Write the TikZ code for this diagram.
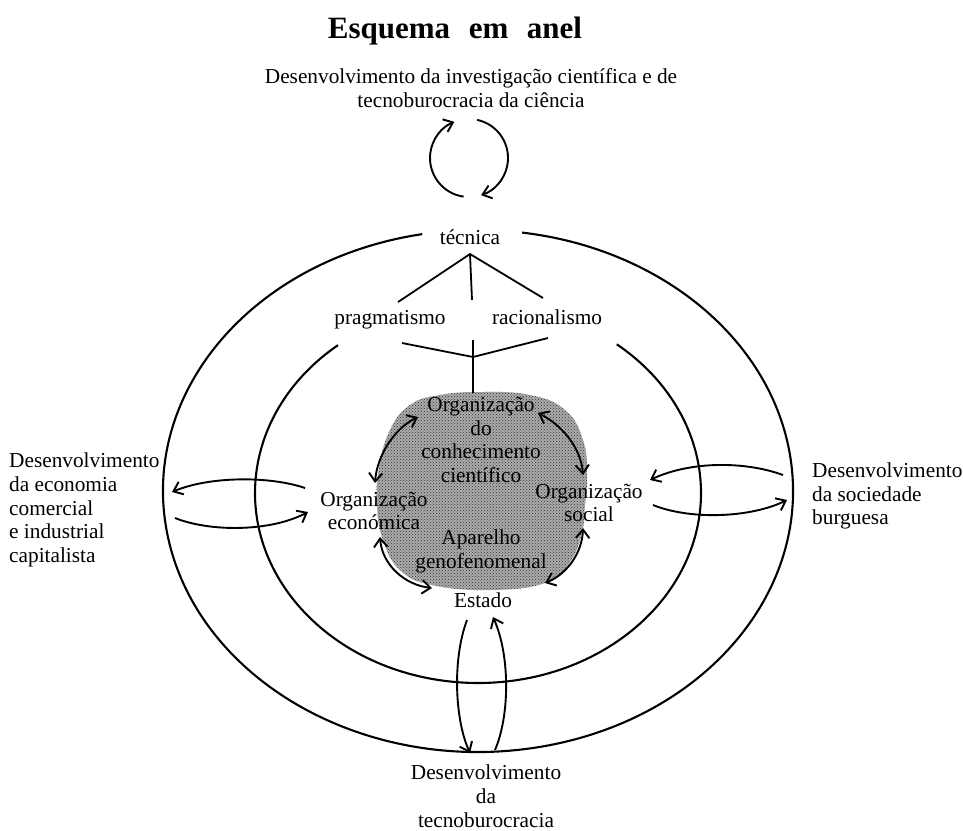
\documentclass[tikz,border=0pt]{standalone}
\usepackage{fontspec}
\setmainfont{Liberation Serif}
\usetikzlibrary{arrows.meta,patterns}
\begin{document}
\begin{tikzpicture}[x=1pt,y=-1pt,
  txt/.style={font=\fontsize{21.3}{23.8}\selectfont, inner sep=0pt, align=center},
  ring/.style={line width=2.1pt},
  tip/.tip={Straight Barb[length=8.5pt,width=13.5pt]},
  arr/.style={line width=1.9pt, -tip},
  darr/.style={line width=1.9pt, tip-tip},
  tline/.style={line width=1.8pt}]
\useasboundingbox (0,0) rectangle (963,830);

% title and top texts
\node[font=\fontsize{31}{33}\selectfont\bfseries, inner sep=0pt] (title) at (455,31) {Esquema\hspace{0.6em}em\hspace{0.6em}anel};
\node[txt] (inv) at (471,88) {Desenvolvimento da investigação científica e de\\tecnoburocracia da ciência};

% top cycle
\coordinate (cyc) at (469,158);
\draw[arr] (cyc) ++(262:39pt) arc[start angle=262, end angle=112, radius=39pt];
\draw[arr] (cyc) ++(78:39pt) arc[start angle=78, end angle=-72, radius=39pt];

% rings
\coordinate (oc) at (478,491);
\coordinate (ic) at (478,493);
\draw[ring] (oc) ++(100.2:315pt and 261pt) arc[start angle=100.2, end angle=441.97, x radius=315pt, y radius=261pt];
\draw[ring] (ic) ++(128.9:223pt and 190pt) arc[start angle=128.9, end angle=411.5, x radius=223pt, y radius=190pt];

% gray blob (stippled)
\path[fill=black!33, postaction={pattern=crosshatch dots, pattern color=black!80}] plot[smooth cycle, tension=0.75] coordinates {
  (481,392) (530,395) (565,410) (583,440) (587,475) (585,505) (582,532)
  (570,562) (545,583) (490,590) (432,585) (400,570) (383,540) (377,505)
  (379,468) (390,430) (410,405) (440,395)};

% technique tree
\node[txt] (tec) at (470,237) {técnica};
\coordinate (apex) at (470,254);
\coordinate (tl) at (398,302);
\coordinate (tm) at (472,300);
\coordinate (tr) at (543,298);
\draw[tline] (tl) -- (apex) -- (tr);
\draw[tline] (apex) -- (tm);
\node[txt] (prag) at (390,320) {pragmatismo};
\node[txt] (rac) at (547,317) {racionalismo};
\coordinate (vl) at (402,343);
\coordinate (vm) at (473,357);
\coordinate (vr) at (548,338);
\coordinate (vtop) at (473,340);
\coordinate (vbot) at (473,393);
\draw[tline] (vl) -- (vm) -- (vr);
\draw[tline] (vtop) -- (vbot);

% inner labels
\node[txt] (conh) at (481,440) {Organização\\do\\conhecimento\\científico};
\node[txt] (econ) at (374,511) {Organização\\económica};
\node[txt] (soc) at (589,503) {Organização\\social};
\node[txt] (apar) at (481,551) {Aparelho\\genofenomenal};
\node[txt] (est) at (483,600) {Estado};

% blob arrows
\coordinate (a1) at (418,417); \coordinate (a2) at (375,483);
\draw[darr] (a2) .. controls (377,455) and (395,428) .. (a1);
\coordinate (b1) at (538,413); \coordinate (b2) at (583,475);
\draw[darr] (b1) .. controls (562,425) and (581,448) .. (b2);
\coordinate (c1) at (380,537); \coordinate (c2) at (432,588);
\draw[darr] (c1) .. controls (382,565) and (405,585) .. (c2);
\coordinate (d1) at (583,528); \coordinate (d2) at (545,583);
\draw[darr] (d1) .. controls (582,555) and (565,575) .. (d2);

% outer texts
\node[txt, align=left, anchor=west] (leftt) at (9,510) {Desenvolvimento\\da economia\\comercial\\e industrial\\capitalista};
\node[txt, align=left, anchor=west] (rightt) at (812,496) {Desenvolvimento\\da sociedade\\burguesa};
\node[txt] (bott) at (486,796) {Desenvolvimento\\da\\tecnoburocracia};

% left arrows
\coordinate (lu1) at (305,488); \coordinate (lu2) at (172,492);
\draw[arr] (lu1) .. controls (270,476) and (210,476) .. (lu2);
\coordinate (ll1) at (175,518); \coordinate (ll2) at (308,512);
\draw[arr] (ll1) .. controls (210,532) and (270,532) .. (ll2);

% right arrows
\coordinate (ru1) at (783,475); \coordinate (ru2) at (650,480);
\draw[arr] (ru1) .. controls (745,461) and (690,461) .. (ru2);
\coordinate (rl1) at (653,505); \coordinate (rl2) at (787,500);
\draw[arr] (rl1) .. controls (690,520) and (750,518) .. (rl2);

% Estado arrows
\coordinate (el1) at (467,620); \coordinate (el2) at (470,753);
\draw[arr] (el1) .. controls (452,660) and (455,720) .. (el2);
\coordinate (er1) at (495,750); \coordinate (er2) at (493,617);
\draw[arr] (er1) .. controls (510,715) and (510,655) .. (er2);
\end{tikzpicture}
\end{document}
